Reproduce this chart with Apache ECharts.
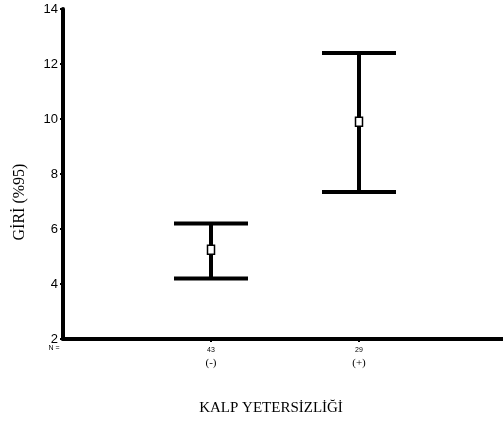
<!DOCTYPE html>
<html>
<head>
<meta charset="utf-8">
<script src="https://cdn.jsdelivr.net/npm/echarts@6/dist/echarts.min.js"></script>
<style>
  html, body { margin: 0; padding: 0; background: #fff; }
  #chart { width: 503px; height: 424px; }
</style>
</head>
<body>
<div id="chart"></div>
<script>
// Heart failure groups: 95% confidence intervals for GİRİ
const groups = ['(-)', '(+)'];
const counts = [43, 29];
const means = [5.25, 9.9];
const lower = [4.2, 7.35];
const upper = [6.2, 12.4];
const nLabel = 'N =';
const yTicks = { min: 2, max: 14, step: 2 };
const yTitle = 'GİRİ (%95)';
const xTitle = 'KALP YETERSİZLİĞİ';

// category slots: leading slot for "N =", one per group, trailing empty slot
const slots = [nLabel].concat(counts.map(String), ['']);

const chart = echarts.init(document.getElementById('chart'), null, { renderer: 'canvas' });

const barData = groups.map((g, i) => [i + 1, means[i], lower[i], upper[i]]);

chart.setOption({
  animation: false,
  backgroundColor: '#fff',
  grid: { left: 63, width: 444, top: 9, bottom: 85, containLabel: false, outerBoundsMode: 'none' },
  xAxis: {
    type: 'category',
    data: slots,
    boundaryGap: false,
    axisLine: { show: true, onZero: false, lineStyle: { color: '#000', width: 4 } },
    axisTick: { show: true, length: 3, alignWithLabel: true, lineStyle: { color: '#000', width: 2 },
      interval: (i) => i === 1 || i === 2 },
    axisLabel: {
      interval: 0,
      margin: 6,
      color: '#000',
      formatter: (val, idx) => {
        if (idx === 0) return '{lead|' + val + '}';
        if (idx > groups.length) return '';
        return '{n|' + val + '}\n{g|' + groups[idx - 1] + '}';
      },
      rich: {
        lead: { fontFamily: 'Liberation Sans', fontSize: 7, padding: [0, 18, 0, 0], color: '#000' },
        n: { fontFamily: 'Liberation Sans', fontSize: 7, lineHeight: 10, color: '#000' },
        g: { fontFamily: 'Liberation Serif', fontSize: 11, lineHeight: 14, verticalAlign: 'bottom', color: '#000' }
      }
    },
    splitLine: { show: false }
  },
  yAxis: {
    type: 'value',
    min: yTicks.min,
    max: yTicks.max,
    interval: yTicks.step,
    axisLine: { show: true, lineStyle: { color: '#000', width: 4 } },
    axisTick: { show: true, length: 3, lineStyle: { color: '#000', width: 2 } },
    axisLabel: { color: '#000', fontFamily: 'Liberation Sans', fontSize: 13, margin: 5 },
    splitLine: { show: false }
  },
  graphic: [
    {
      type: 'text',
      x: 20, y: 202,
      rotation: Math.PI / 2,
      style: { text: yTitle, font: '16px "Liberation Serif"', fill: '#000', align: 'center', verticalAlign: 'middle' }
    },
    {
      type: 'text',
      x: 271, y: 408,
      style: { text: xTitle, font: '15px "Liberation Serif"', fill: '#000', align: 'center', verticalAlign: 'middle' }
    }
  ],
  series: [{
    type: 'custom',
    data: barData,
    encode: { x: 0, y: [1, 2, 3] },
    renderItem: (params, api) => {
      const x = api.value(0);
      const mid = api.coord([x, api.value(1)]);
      const lo = api.coord([x, api.value(2)]);
      const hi = api.coord([x, api.value(3)]);
      const half = 37;
      const line = { stroke: '#000', lineWidth: 4 };
      return {
        type: 'group',
        children: [
          { type: 'line', shape: { x1: hi[0], y1: hi[1], x2: lo[0], y2: lo[1] }, style: { stroke: '#000', lineWidth: 4 } },
          { type: 'line', shape: { x1: hi[0] - half, y1: hi[1], x2: hi[0] + half, y2: hi[1] }, style: line },
          { type: 'line', shape: { x1: lo[0] - half, y1: lo[1], x2: lo[0] + half, y2: lo[1] }, style: line },
          { type: 'rect', shape: { x: mid[0] - 3.5, y: mid[1] - 4.5, width: 7, height: 9 },
            style: { fill: '#fff', stroke: '#000', lineWidth: 1.5 } }
        ]
      };
    }
  }]
});
</script>
</body>
</html>
